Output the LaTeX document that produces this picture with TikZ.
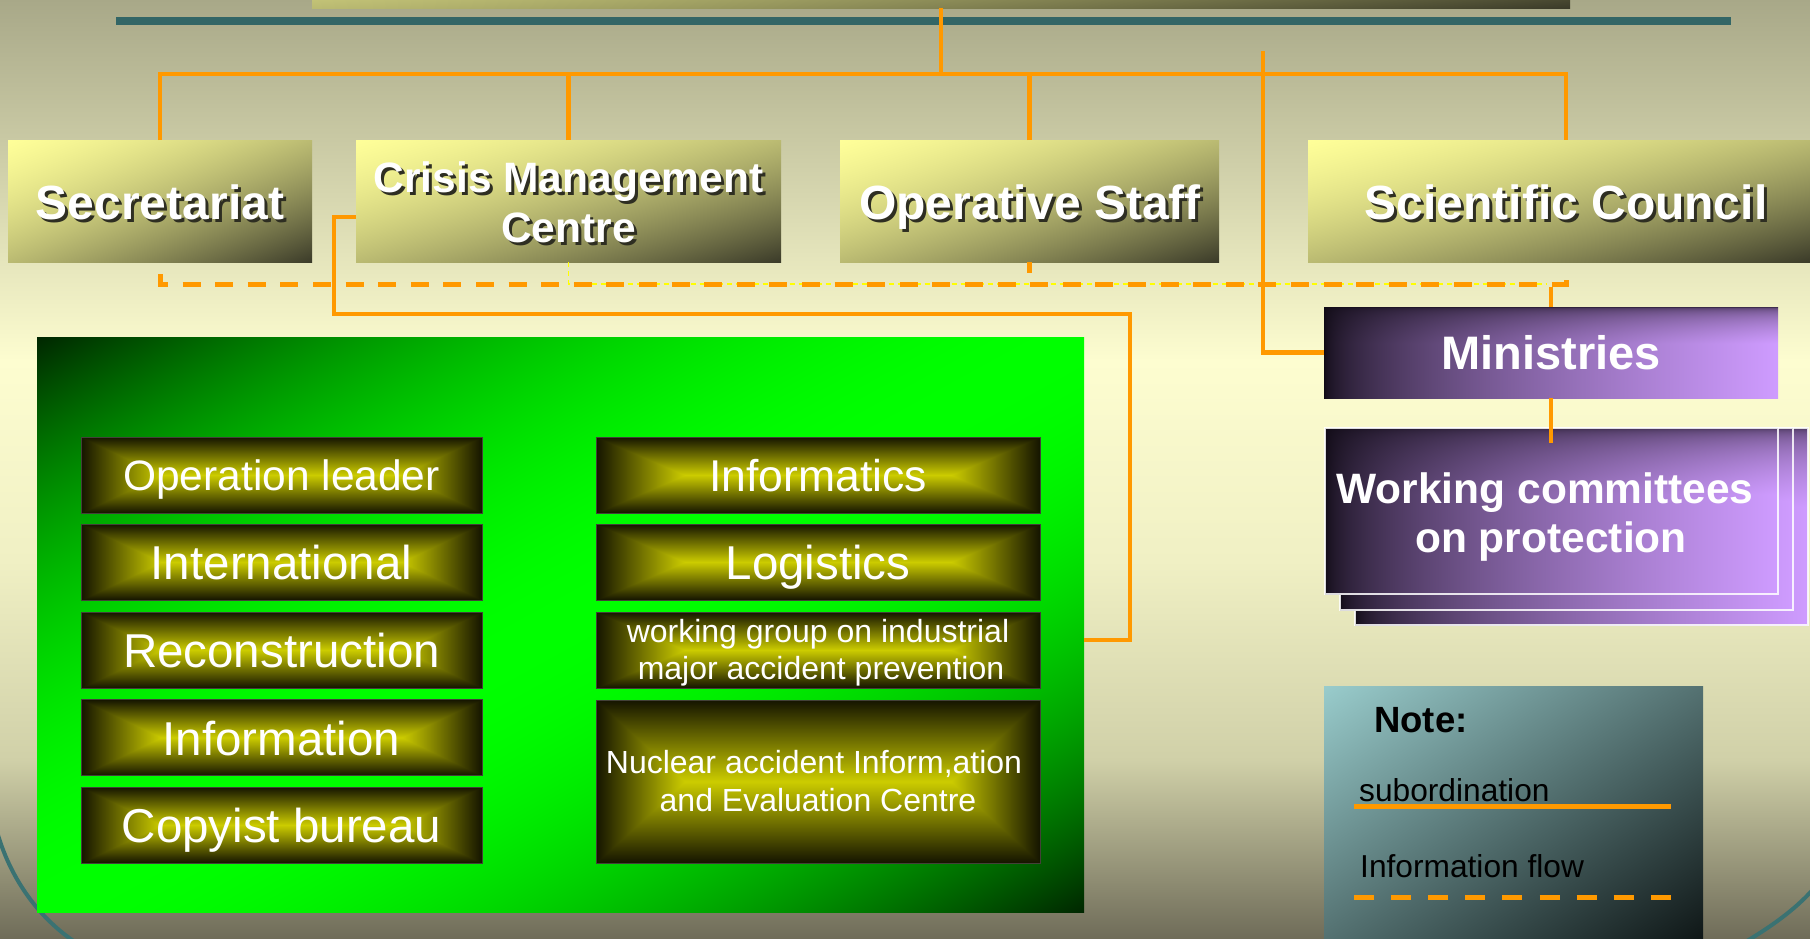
\documentclass[tikz,border=0pt]{standalone}
\usepackage{fontspec}
\setmainfont{Liberation Sans}

\definecolor{orng}{HTML}{FF9900}
\definecolor{tealline}{HTML}{336666}
\definecolor{tealarc}{HTML}{3A7272}
\definecolor{shadowc}{HTML}{2E2E22}
\definecolor{bgA}{HTML}{A8A888}
\definecolor{bgB}{HTML}{FDFDD0}
\definecolor{bgC}{HTML}{F0F0C4}
\definecolor{bgD}{HTML}{D0D0A8}
\definecolor{bgE}{HTML}{6E6B58}
\definecolor{ylw}{HTML}{FFFF00}

\pgfdeclarefunctionalshading{topshade}{\pgfpoint{-50bp}{-50bp}}{\pgfpoint{50bp}{50bp}}{}{
  neg add 50 add 100 div
  dup 0 lt {pop 0} if dup 1 gt {pop 1} if
  dup 0.6 mul 0.4 add mul
  dup dup
  -0.44 mul 0.6 add
  3 1 roll
  -0.77 mul 1 add
  3 1 roll
  -0.77 mul 1 add
  3 1 roll
}
\pgfdeclarefunctionalshading{innershade}{\pgfpoint{-50bp}{-50bp}}{\pgfpoint{50bp}{50bp}}{}{
  abs 25 div
  exch abs 25 div 0.6 sub 0.4 div dup 0 lt {pop 0} if
  2 copy lt {exch} if pop
  dup 1 gt {pop 1} if
  -0.72 mul 0.8 add dup 0
}
\pgfdeclarefunctionalshading{greenshade}{\pgfpoint{-50bp}{-50bp}}{\pgfpoint{50bp}{50bp}}{}{
  neg add 50 add 100 div 2 mul 1 sub abs
  dup 1 gt {pop 1} if
  dup mul -0.85 mul 1 add
  0 exch 0
}
\pgfdeclarefunctionalshading{purpleshade}{\pgfpoint{-50bp}{-50bp}}{\pgfpoint{50bp}{50bp}}{}{
  25 exch sub 50 div 2.5 mul dup 0 lt {pop 0} if dup 1 gt {pop 1} if sqrt 0.9 mul 0.1 add
  exch 25 add 50 div dup 0 lt {pop 0} if dup 1 gt {pop 1} if
  mul dup 1 gt {pop 1} if
  0.6 exp
  dup dup
  0.92 mul 0.08 add
  3 1 roll
  0.57 mul 0.04 add
  3 1 roll
  0.75 mul 0.06 add
  3 1 roll
}
\pgfdeclarefunctionalshading{noteshade}{\pgfpoint{-50bp}{-50bp}}{\pgfpoint{50bp}{50bp}}{}{
  neg add 50 add 100 div dup 0 lt {pop 0} if dup 1 gt {pop 1} if
  dup dup
  -0.71 mul 0.8 add
  3 1 roll
  -0.71 mul 0.8 add
  3 1 roll
  -0.54 mul 0.6 add
  3 1 roll
}

\tikzset{
  sub/.style={draw=orng, line width=4.5pt},
  info/.style={draw=orng, line width=5pt, dash pattern=on 18pt off 14.6pt},
  yinfo/.style={draw=ylw, line width=1.5pt, dash pattern=on 5pt off 4pt},
  topbox/.style={shade, shading=topshade, inner sep=0pt, outer sep=0pt, minimum height=122pt},
  innerbox/.style={shade, shading=innershade, draw=black!85!yellow, line width=1pt, inner sep=0pt, outer sep=0pt, minimum height=76pt},
  purplebox/.style={shade, shading=purpleshade, inner sep=0pt, outer sep=0pt},
  ttext/.style={anchor=base, inner sep=0pt, text=white, font=\bfseries\fontsize{48}{58}\selectfont},
  ttextsm/.style={ttext, font=\bfseries\fontsize{42.5}{50}\selectfont},
  itext/.style={anchor=base, inner sep=0pt, text=white, font=\fontsize{47.5}{57}\selectfont},
  itextsm/.style={itext, font=\fontsize{42.5}{52}\selectfont},
  itextmd/.style={itext, font=\fontsize{44.5}{52}\selectfont},
  itextxs/.style={itext, font=\fontsize{32}{38}\selectfont},
  ptext/.style={anchor=base, inner sep=0pt, text=white, font=\bfseries\fontsize{47}{56}\selectfont},
  ptextsm/.style={ptext, font=\bfseries\fontsize{42.5}{50}\selectfont},
  ntext/.style={anchor=base west, inner sep=0pt, text=black, font=\fontsize{31.7}{38}\selectfont},
}

\begin{document}
\begin{tikzpicture}[x=1pt, y=-1pt]
\useasboundingbox (0,0) rectangle (1810,938);

% background
\shade[top color=bgA, bottom color=bgB] (0,-1) rectangle (1810,361);
\shade[top color=bgB, bottom color=bgC] (0,360) rectangle (1810,561);
\shade[top color=bgC, bottom color=bgD] (0,560) rectangle (1810,761);
\shade[top color=bgD, bottom color=bgE] (0,760) rectangle (1810,940);

% decorative arcs
\draw[tealarc, line width=4pt] (-2,835) .. controls (10,875) and (35,915) .. (75,942);
\draw[tealarc, line width=4pt] (1815,887) .. controls (1800,905) and (1775,925) .. (1740,945);

% teal rule
\fill[tealline] (116,17) rectangle (1731,25);

% top (partly visible) box
\node[topbox, minimum width=1258pt, minimum height=100pt] (topbar) at (941,-42) {};

% hierarchy lines
\coordinate (hub) at (941,74);
\coordinate (scix) at (1566,140);
\coordinate (mtop) at (1263,51);

\node[topbox, minimum width=304pt] (sec) at (160,201) {};
\node[topbox, minimum width=425pt] (cmc) at (568.5,201) {};
\node[topbox, minimum width=379pt] (ops) at (1029.5,201) {};
\node[topbox, minimum width=502pt] (sci) at (1559,201) {};

\draw[sub] (topbar.south) -- (hub);
\draw[sub] (sec.north) |- (scix |- hub) -- (scix);
\draw[sub] (cmc.north) -- (cmc.north |- hub);
\draw[sub] (ops.north) -- (ops.north |- hub);

% top box texts
\node[ttext, text=shadowc] (secS) at (163,222) {Secretariat};
\node[ttext] (secT) at (160,219) {Secretariat};
\node[ttextsm, text=shadowc] (cmc1S) at (571.5,195) {Crisis Management};
\node[ttextsm] (cmc1T) at (568.5,192) {Crisis Management};
\node[ttextsm, text=shadowc] (cmc2S) at (571.5,245) {Centre};
\node[ttextsm] (cmc2T) at (568.5,242) {Centre};
\node[ttext, text=shadowc] (opsS) at (1033,222) {Operative Staff};
\node[ttext] (opsT) at (1030,219) {Operative Staff};
\node[ttext, text=shadowc] (sciS) at (1569,222) {Scientific Council};
\node[ttext] (sciT) at (1566,219) {Scientific Council};

% information flow (dashed)
\coordinate (dashR) at (1566,284);
\draw[yinfo] (cmc.south) |- (1547,284);
\draw[info] ([yshift=-12pt]sec.south) |- (dashR) -- ([xshift=7pt,yshift=-9pt]sci.south);
\draw[sub] (ops.south) -- ++(0,11);

% Ministries
\node[purplebox, minimum width=454pt, minimum height=91pt] (min) at (1551,352.5) {};
\node[ptext] (minT) at (1551,369) {Ministries};
\draw[sub] (mtop) |- (min.west);
\draw[sub] (1551,287) -- (min.north);

% working committees (stacked)
\node[purplebox, draw=white, draw opacity=0.85, line width=1.2pt, minimum width=453pt, minimum height=197pt] (wc3) at (1581.5,526.5) {};
\node[purplebox, draw=white, draw opacity=0.85, line width=1.2pt, minimum width=453pt, minimum height=182pt] (wc2) at (1566.5,519) {};
\node[purplebox, draw=white, draw opacity=0.85, line width=1.2pt, minimum width=453pt, minimum height=166pt] (wc) at (1551.5,511) {};
\node[ptextsm] (wc1T) at (1545,503) {Working committees};
\node[ptextsm] (wc2T) at (1551,552) {on protection};
\draw[sub] (min.south) -- ++(0,45);

% green department box
\node[shade, shading=greenshade, inner sep=0pt, outer sep=0pt, minimum width=1047pt, minimum height=575pt] (green) at (560.5,624.5) {};
\draw[sub] ([yshift=-16pt]cmc.west) -- ++(-22,0) |- (1130,314) |- ([yshift=-15.5pt]green.east);

\node[innerbox, minimum width=401pt] (opl) at (281.5,475) {};
\node[innerbox, minimum width=401pt] (intl) at (281.5,562) {};
\node[innerbox, minimum width=401pt] (recon) at (281.5,650) {};
\node[innerbox, minimum width=401pt] (infn) at (281.5,737.5) {};
\node[innerbox, minimum width=401pt] (copy) at (281.5,825) {};
\node[innerbox, minimum width=444pt] (infx) at (818,475) {};
\node[innerbox, minimum width=444pt] (logi) at (818,562) {};
\node[innerbox, minimum width=444pt] (wgrp) at (818,650) {};
\node[innerbox, minimum width=444pt, minimum height=163pt] (nuc) at (818,781.5) {};

\node[itextsm] (oplT) at (281.5,490.5) {Operation leader};
\node[itext] (intlT) at (281.5,579) {International};
\node[itext] (reconT) at (281.5,667.5) {Reconstruction};
\node[itext] (infnT) at (281.5,755) {Information};
\node[itext] (copyT) at (281.5,842.5) {Copyist bureau};
\node[itextmd] (infxT) at (818,491) {Informatics};
\node[itext] (logiT) at (818,579) {Logistics};
\node[itextxs] (wgrp1T) at (818,642) {working group on industrial};
\node[itextxs] (wgrp2T) at (821,679) {major accident prevention};
\node[itextxs] (nuc1T) at (814,773) {Nuclear accident Inform,ation};
\node[itextxs] (nuc2T) at (818,811) {and Evaluation Centre};

% note / legend
\node[shade, shading=noteshade, inner sep=0pt, outer sep=0pt, minimum width=379pt, minimum height=252pt] (note) at (1513.5,812) {};
\node[ntext, font=\bfseries\fontsize{36.5}{44}\selectfont] (noteT) at (1374,732) {Note:};
\node[ntext] (subT) at (1359,801) {subordination};
\node[ntext] (infT) at (1360,877) {Information flow};
\coordinate (l1a) at (1354,806);
\coordinate (l1b) at (1671,806);
\coordinate (l2a) at (1354,897);
\coordinate (l2b) at (1671,897);
\draw[sub, line width=5pt] (l1a) -- (l1b);
\draw[info, dash pattern=on 20pt off 17.1pt] (l2a) -- (l2b);
\end{tikzpicture}
\end{document}
